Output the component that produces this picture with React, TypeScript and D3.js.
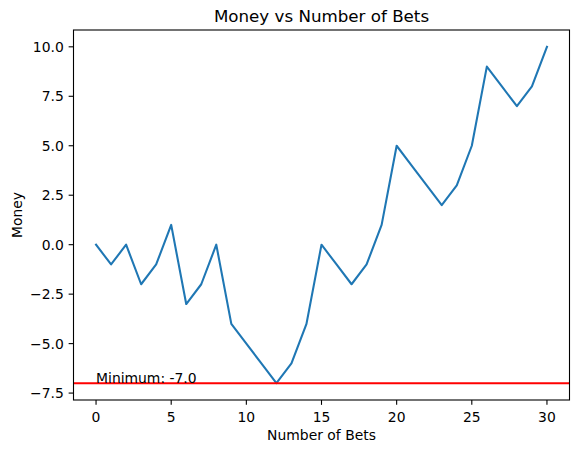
import React from "react";
import * as d3 from "d3";

const bets: number[] = [0,1,2,3,4,5,6,7,8,9,10,11,12,13,14,15,16,17,18,19,20,21,22,23,24,25,26,27,28,29,30];
const money: number[] = [0,-1,0,-2,-1,1,-3,-2,0,-4,-5,-6,-7,-6,-4,0,-1,-2,-1,1,5,4,3,2,3,5,9,8,7,8,10];
const xTicks: number[] = [0,5,10,15,20,25,30];
const yTicks: number[] = [-7.5,-5,-2.5,0,2.5,5,7.5,10];
const title = "Money vs Number of Bets";
const xLabel = "Number of Bets";
const yLabel = "Money";

export default function App() {
  const W = 579, H = 453;
  const L = 73.5, R = 569.5, T = 30, B = 400;
  const minVal = d3.min(money) as number;
  const maxVal = d3.max(money) as number;
  const xPad = (30 - 0) * 0.05;
  const yPad = (maxVal - minVal) * 0.05;
  const x = d3.scaleLinear().domain([0 - xPad, 30 + xPad]).range([L, R]);
  const y = d3.scaleLinear().domain([minVal - yPad, maxVal + yPad]).range([B, T]);
  const line = d3.line<number>().x((_, i) => x(bets[i])).y((d) => y(d));
  const font = "'DejaVu Sans', sans-serif";
  const fmt = (v: number) => v.toFixed(1).replace("-", "\u2212");
  return (
    <svg width={W} height={H} style={{ position: "absolute", left: 0, top: 0, background: "#fff" }}>
      <rect x={0} y={0} width={W} height={H} fill="#fff" />
      <path d={line(money) || ""} fill="none" stroke="#1f77b4" strokeWidth={2.08} strokeLinejoin="round" strokeLinecap="square" />
      <line x1={L} x2={R} y1={y(minVal)} y2={y(minVal)} stroke="red" strokeWidth={2.08} />
      <text x={x(0)} y={y(minVal)} fontFamily={font} fontSize={13.9} fill="#000">{`Minimum: ${minVal.toFixed(1)}`}</text>
      <rect x={L} y={T} width={R - L} height={B - T} fill="none" stroke="#000" strokeWidth={1.1} />
      {xTicks.map((t) => (
        <g key={"x" + t}>
          <line x1={x(t)} x2={x(t)} y1={B} y2={B + 4.86} stroke="#000" strokeWidth={1.1} />
          <text x={x(t)} y={421.5} textAnchor="middle" fontFamily={font} fontSize={13.9} fill="#000">{t}</text>
        </g>
      ))}
      {yTicks.map((t) => (
        <g key={"y" + t}>
          <line x1={L - 4.86} x2={L} y1={y(t)} y2={y(t)} stroke="#000" strokeWidth={1.1} />
          <text x={L - 9.7} y={y(t) + 5} textAnchor="end" fontFamily={font} fontSize={13.9} fill="#000">{fmt(t)}</text>
        </g>
      ))}
      <text x={(L + R) / 2} y={21.5} textAnchor="middle" fontFamily={font} fontSize={16.7} fill="#000">{title}</text>
      <text x={(L + R) / 2} y={440} textAnchor="middle" fontFamily={font} fontSize={13.9} fill="#000">{xLabel}</text>
      <text transform={`translate(22,${(T + B) / 2}) rotate(-90)`} textAnchor="middle" fontFamily={font} fontSize={13.9} fill="#000">{yLabel}</text>
    </svg>
  );
}
